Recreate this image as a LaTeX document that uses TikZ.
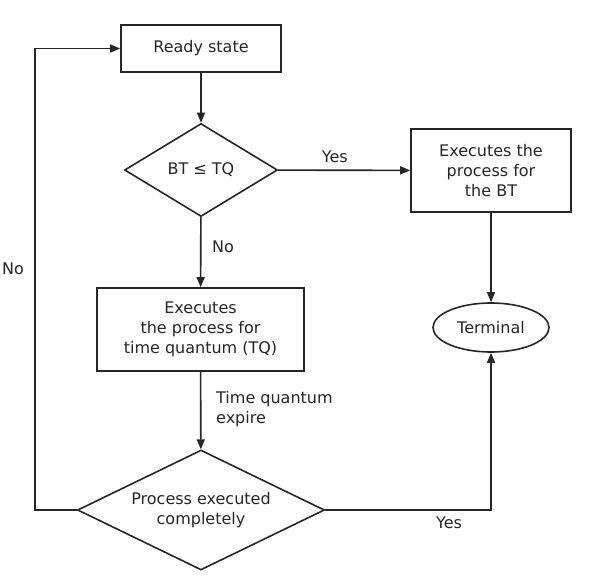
\documentclass[tikz,border=0pt]{standalone}
\usepackage{fontspec}
\setmainfont{DejaVu Sans}
\usetikzlibrary{shapes.geometric,arrows.meta}
\definecolor{ink}{HTML}{262626}
\begin{document}
\begin{tikzpicture}[x=1pt,y=-1pt,
  every node/.style={font=\fontsize{16}{20}\selectfont, text=ink},
  boxnode/.style={draw=ink, line width=1.6pt, rectangle, inner sep=0pt, align=center},
  decnode/.style={draw=ink, line width=1.6pt, diamond, inner sep=0pt, align=center},
  termnode/.style={draw=ink, line width=1.6pt, ellipse, inner sep=0pt},
  conn/.style={draw=ink, line width=1.6pt},
  arr/.style={conn, -{Triangle[length=10pt,width=8pt]}},
  lbl/.style={inner sep=0pt}]
\useasboundingbox (0,0) rectangle (592,576);
\node[boxnode, minimum width=160pt, minimum height=47pt] (ready) at (201,48.5) {Ready state};
\node[decnode, aspect=1.64, minimum width=153pt, minimum height=93pt] (d1) at (201,170) {BT ≤ TQ};
\node[boxnode, minimum width=160pt, minimum height=83pt] (bt) at (491,170.5) {Executes the\\process for\\the BT};
\node[termnode, minimum width=116pt, minimum height=49pt] (term) at (491,327.5) {Terminal};
\node[boxnode, minimum width=207pt, minimum height=83pt] (tq) at (200.5,329.5) {Executes\\the process for\\time quantum (TQ)};
\node[decnode, aspect=2.03, minimum width=247pt, minimum height=120pt] (d2) at (201,510) {Process executed\\completely};
\coordinate (cl) at (35,510);
\coordinate (ct) at (35,48.5);
\coordinate (cr) at (491,510);
\draw[arr] (ready) -- (d1);
\draw[arr] (d1) -- node[lbl, pos=0.43, above=7pt] {Yes} (bt);
\draw[arr] (bt) -- (term);
\draw[arr] (d1) -- (tq);
\node[lbl, anchor=west] (lno) at (212,247) {No};
\draw[arr] (tq) -- (d2);
\node[lbl, anchor=west, align=left] (lexp) at (216,409) {Time quantum\\expire};
\draw[arr] (d2.west) -- (cl) -- (ct) -- (ready.west);
\node[lbl] (lno2) at (13,269) {No};
\draw[arr] (d2.east) -- (cr) -- (term.south);
\node[lbl] (lyes2) at (449,523) {Yes};
\end{tikzpicture}
\end{document}
